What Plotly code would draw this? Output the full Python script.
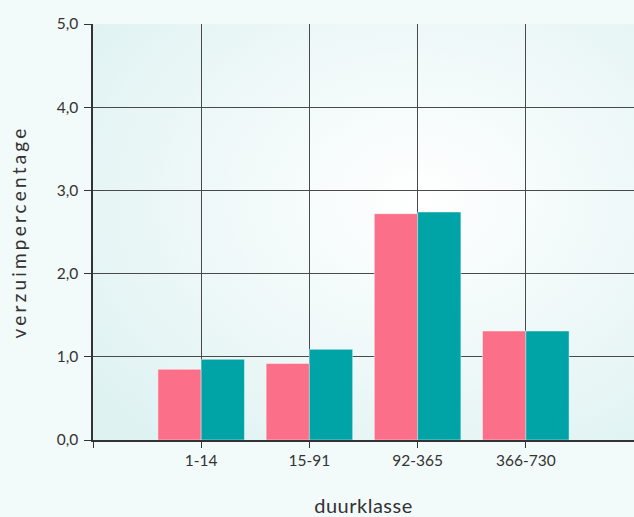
import base64
import plotly.graph_objects as go

# Verzuimpercentage per duurklasse, two series
categories = ["1-14", "15-91", "92-365", "366-730"]
series_a = [0.85, 0.92, 2.72, 1.31]
series_b = [0.97, 1.09, 2.74, 1.31]
y_ticks = [0, 1, 2, 3, 4, 5]

PINK = "#FB6F88"
TEAL = "#00A3A6"
TEXT = "#333333"

# Soft radial wash for the plot area
svg = (
    '<svg xmlns="http://www.w3.org/2000/svg" width="540" height="416" viewBox="0 0 540 416" '
    'preserveAspectRatio="none">'
    '<defs><radialGradient id="g" cx="0.6" cy="0.42" r="0.75">'
    '<stop offset="0" stop-color="#ffffff"/>'
    '<stop offset="0.55" stop-color="#eef8f8"/>'
    '<stop offset="1" stop-color="#dff2f2"/>'
    '</radialGradient></defs>'
    '<rect width="540" height="416" fill="url(#g)"/></svg>'
)
bg_src = "data:image/svg+xml;base64," + base64.b64encode(svg.encode()).decode()

fig = go.Figure()
fig.add_trace(go.Bar(
    x=categories, y=series_a, name="reeks A",
    marker=dict(color=PINK, line=dict(color="rgba(255,255,255,0.45)", width=1)),
))
fig.add_trace(go.Bar(
    x=categories, y=series_b, name="reeks B",
    marker=dict(color=TEAL, line=dict(color="rgba(255,255,255,0.45)", width=1)),
))

fig.update_layout(
    width=634, height=517,
    margin=dict(l=93, r=0, t=24, b=77),
    paper_bgcolor="#f3fafa",
    plot_bgcolor="rgba(0,0,0,0)",
    barmode="group", bargap=0.2, bargroupgap=0,
    showlegend=False,
    separators=",.",
    font=dict(family="Lato", size=16, color=TEXT),
    images=[dict(
        source=bg_src, xref="paper", yref="paper", x=0, y=1,
        sizex=1, sizey=1, sizing="stretch", layer="below",
        xanchor="left", yanchor="top",
    )],
)

# ticks at the axis origin and at each category
x_tickvals = [-1] + list(range(len(categories)))
x_ticktext = [""] + categories

fig.update_xaxes(
    type="category", range=[-1, 4],
    tickvals=x_tickvals, ticktext=x_ticktext,
    showgrid=True, gridcolor="#4a4a4a", gridwidth=1.3,
    showline=True, linecolor="#333333", linewidth=1.5,
    ticks="outside", ticklen=6, tickcolor="#333333", tickwidth=1.3,
    tickfont=dict(size=15.5, color=TEXT),
    title=dict(
        text='<span style="letter-spacing:0.5px">duurklasse</span>',
        font=dict(size=20, color=TEXT), standoff=35,
    ),
)
fig.update_yaxes(
    range=[0, 5], tickvals=y_ticks, tickformat=".1f",
    showgrid=True, gridcolor="#4a4a4a", gridwidth=1.3,
    showline=True, linecolor="#333333", linewidth=1.5,
    ticks="outside", ticklen=7, tickcolor="#333333", tickwidth=1.3,
    ticklabelstandoff=3,
    tickfont=dict(size=15.5, color=TEXT), zeroline=False,
    title=dict(
        text='<span style="letter-spacing:3.2px">verzuimpercentage</span>',
        font=dict(size=19, color=TEXT), standoff=25,
    ),
)

fig.write_html("out.html")
